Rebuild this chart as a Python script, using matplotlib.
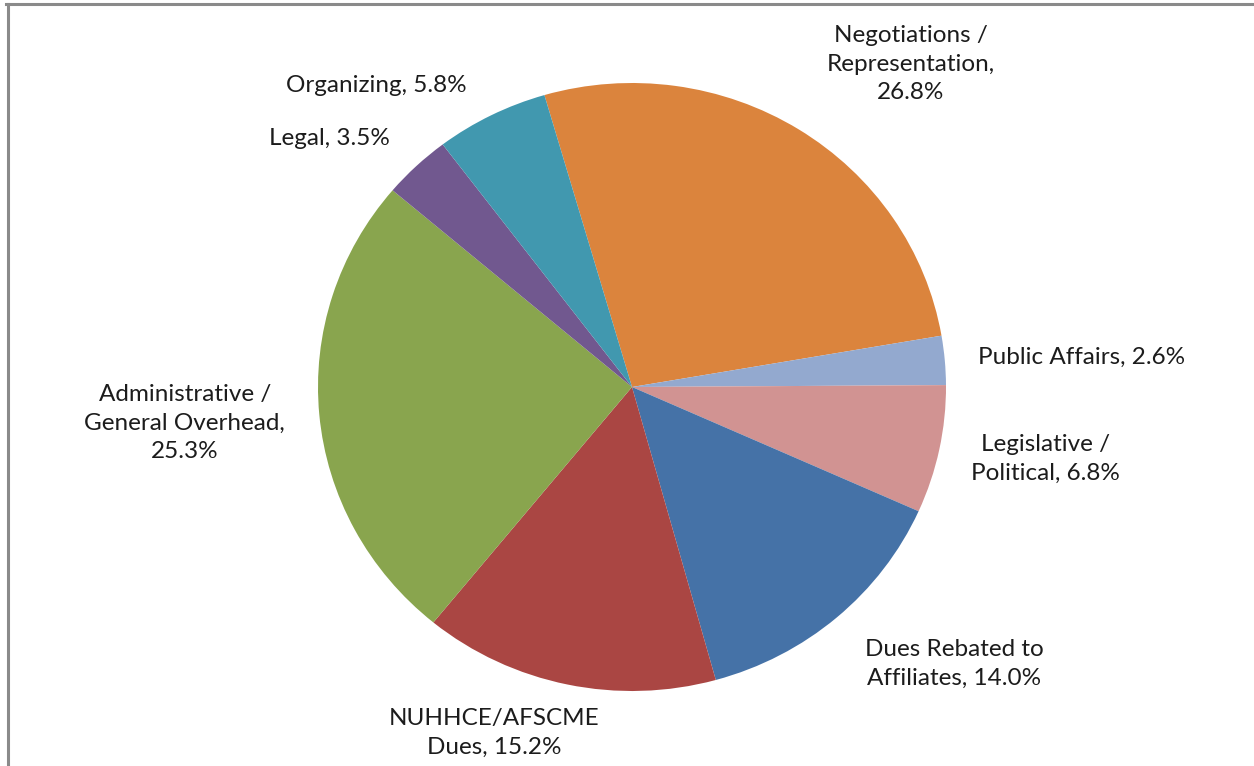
import matplotlib.pyplot as plt
from matplotlib.lines import Line2D

plt.rcParams['font.family'] = ['Lato', 'DejaVu Sans']

# slice data, clockwise from the top
labels = ['Negotiations /\nRepresentation,\n26.8%', 'Public Affairs, 2.6%',
          'Legislative /\nPolitical, 6.8%', 'Dues Rebated to\nAffiliates, 14.0%',
          'NUHHCE/AFSCME\nDues, 15.2%', 'Administrative /\nGeneral Overhead,\n25.3%',
          'Legal, 3.5%', 'Organizing, 5.8%']
values = [26.8, 2.6, 6.8, 14.0, 15.2, 25.3, 3.5, 5.8]
colors = ['#DB843D', '#93A9CF', '#D19392', '#4572A7',
          '#AA4643', '#89A54E', '#71588F', '#4198AF']

# label centres in pie units (layout only)
label_pos = [(0.888, 1.062), (1.431, 0.099), (1.318, -0.237), (1.026, -0.911),
             (-0.438, -1.137), (-1.424, -0.118), (-0.965, 0.819), (-0.815, 0.993)]

fig = plt.figure(figsize=(12.54, 7.66), dpi=100)
ax = fig.add_axes([318 / 1254, 75 / 766, 628 / 1254, 608 / 766])

ax.pie(values, colors=colors, startangle=106.2, counterclock=False,
       wedgeprops=dict(linewidth=0))
ax.set_aspect('auto')
ax.set_xlim(-1, 1)
ax.set_ylim(-1, 1)

for lab, (x, y) in zip(labels, label_pos):
    ax.text(x, y, lab, ha='center', va='center', fontsize=17.5,
            color='#1c1c1c', linespacing=1.45, clip_on=False)

# chart frame (only left and top edges visible in the crop)
gray = '#8a8a8a'
fig.add_artist(Line2D([7.5 / 1254, 7.5 / 1254], [0, 1 - 4 / 766],
                      transform=fig.transFigure, color=gray, linewidth=2.2))
fig.add_artist(Line2D([6 / 1254, 1], [1 - 4 / 766, 1 - 4 / 766],
                      transform=fig.transFigure, color=gray, linewidth=2.2))

fig.savefig('out.png', dpi=100)
